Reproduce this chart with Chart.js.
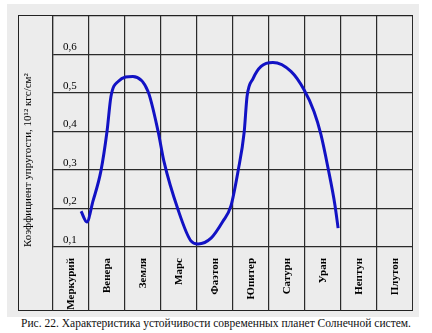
<!DOCTYPE html>
<html>
<head>
<meta charset="utf-8">
<script src="https://cdn.jsdelivr.net/npm/chart.js@4"></script>
<style>
  html, body { margin: 0; padding: 0; background: #ffffff; width: 432px; height: 333px; overflow: hidden; }
  #bg { position: absolute; left: 7px; top: 4px; width: 412px; height: 313px; background: #ececec; }
  #box { position: absolute; left: 18px; top: 15px; width: 395px; height: 296px; box-sizing: border-box;
         border: 1px solid #222; }
  #wrap { position: absolute; left: 0; top: 0; width: 394px; height: 295px; }
  #cap { position: absolute; left: 0; top: 317px; width: 432px; text-align: center;
         font-family: "Liberation Serif", "DejaVu Serif", serif; font-size: 11.5px; color: #111; }
</style>
</head>
<body>
<div id="bg"></div>
<div id="box"><div id="wrap"><canvas id="c"></canvas></div></div>
<div id="cap">Рис. 22. Характеристика устойчивости современных планет Солнечной систем.</div>
<script>
const planets = ['Меркурий', 'Венера', 'Земля', 'Марс', 'Фаэтон', 'Юпитер', 'Сатурн', 'Уран', 'Нептун', 'Плутон'];
const yTicks = [0.1, 0.2, 0.3, 0.4, 0.5, 0.6, 0.7];
const yTickLabels = ['0,1', '0,2', '0,3', '0,4', '0,5', '0,6', ''];
// curve position measured in planet-column units from the left edge of the table
const curveX = [0.78, 0.94, 1.11, 1.33, 1.50, 1.61, 1.81, 2.22, 2.64, 2.92, 3.08, 3.47, 3.83, 4.03, 4.39, 4.72, 4.94, 5.14, 5.31, 5.39, 5.56, 5.78, 6.11, 6.61, 6.97, 7.25, 7.44, 7.64, 7.83, 7.92];
const curveY = [0.193, 0.165, 0.219, 0.297, 0.400, 0.491, 0.530, 0.543, 0.504, 0.400, 0.323, 0.198, 0.116, 0.108, 0.123, 0.167, 0.206, 0.297, 0.398, 0.491, 0.538, 0.569, 0.579, 0.556, 0.509, 0.452, 0.393, 0.305, 0.210, 0.149];

const points = curveX.map((x, i) => ({ x: x, y: curveY[i] }));
const serif = '"Liberation Serif", "DejaVu Serif", serif';
const lineCol = '#2a2a2a';

new Chart(document.getElementById('c'), {
  type: 'line',
  data: {
    labels: planets,
    datasets: [{
      data: points,
      xAxisID: 'xl',
      yAxisID: 'y',
      borderColor: '#1212c4',
      borderWidth: 3,
      pointRadius: 0,
      fill: false,
      cubicInterpolationMode: 'monotone'
    }]
  },
  options: {
    responsive: true,
    maintainAspectRatio: false,
    animation: false,
    layout: { padding: 0, autoPadding: false },
    plugins: { legend: { display: false }, tooltip: { enabled: false }, title: { display: false } },
    scales: {
      x: {
        type: 'category',
        position: 'bottom',
        offset: true,
        grid: { offset: true, color: lineCol, lineWidth: 1.2, drawTicks: true, tickLength: 64 },
        border: { display: false },
        afterFit: s => { s.height = 64; s.paddingLeft = 0; s.paddingRight = 0; },
        ticks: {
          autoSkip: false, minRotation: 90, maxRotation: 90, padding: -53,
          color: '#000', font: { family: serif, size: 11, weight: 'bold' }
        }
      },
      xl: { type: 'linear', display: false, min: 0, max: 10 },
      y: {
        type: 'linear',
        position: 'left',
        min: 0.1, max: 0.7,
        afterFit: s => { s.width = 34; s.paddingTop = 0; s.paddingBottom = 0; },
        afterBuildTicks: s => { s.ticks = yTicks.map(v => ({ value: v })); },
        grid: { color: lineCol, lineWidth: 1.2, drawTicks: false },
        border: { display: true, color: lineCol, width: 1.2 },
        ticks: {
          mirror: true, padding: 10, labelOffset: -7,
          color: '#000', font: { family: serif, size: 11 },
          callback: (v, i) => yTickLabels[i]
        },
        title: {
          display: true,
          align: 'start',
          text: 'Коэффициент упругости, 10¹² кгс/см²',
          color: '#000',
          font: { family: serif, size: 11 },
          padding: { top: 3, bottom: 0 }
        }
      }
    }
  }
});
</script>
</body>
</html>
